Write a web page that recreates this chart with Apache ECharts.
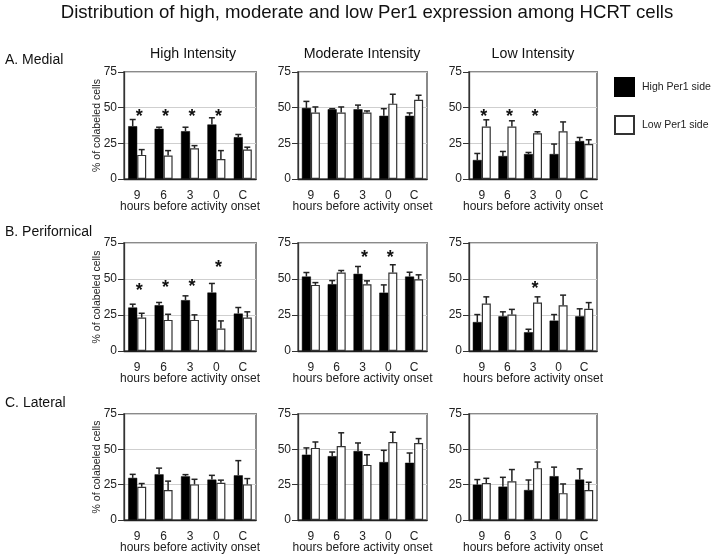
<!DOCTYPE html>
<html>
<head>
<meta charset="utf-8">
<script src="https://cdn.jsdelivr.net/npm/echarts@6/dist/echarts.min.js"></script>
<style>html,body{margin:0;padding:0;background:#fff}#c{width:713px;height:558px}</style>
</head>
<body>
<div id="c"></div>
<script>
const categories = ['9', '6', '3', '0', 'C'];
const yTicks = [0, 25, 50, 75];

// Row A: Medial
const highA1 = [37.0, 35.2, 33.5, 38.2, 29.3];
const highA1Sem = [4.7, 1.1, 2.8, 4.7, 1.9];
const lowA1 = [16.9, 16.4, 21.6, 14.0, 20.6];
const lowA1Sem = [3.7, 3.5, 1.8, 5.9, 1.7];
const starsA1 = [45.7, 45.7, 45.7, 45.7, null];

const highA2 = [49.8, 48.9, 48.9, 44.3, 44.3];
const highA2Sem = [4.6, 0.4, 2.9, 5.0, 2.0];
const lowA2 = [46.6, 46.6, 46.6, 52.8, 55.5];
const lowA2Sem = [3.9, 3.9, 1.1, 6.6, 3.2];
const starsA2 = [null, null, null, null, null];

const highA3 = [13.3, 16.1, 17.5, 17.5, 26.6];
const highA3Sem = [4.6, 3.2, 1.1, 7.0, 2.5];
const lowA3 = [36.8, 36.8, 32.1, 33.5, 24.5];
const lowA3Sem = [4.7, 4.0, 1.0, 6.5, 3.0];
const starsA3 = [45.4, 45.4, 45.4, null, null];

// Row B: Perifornical
const highB1 = [30.2, 31.8, 35.3, 40.6, 26.0];
const highB1Sem = [2.3, 1.9, 3.0, 6.3, 4.2];
const lowB1 = [23.2, 21.6, 21.6, 15.6, 23.2];
const lowB1Sem = [3.0, 3.9, 3.5, 5.3, 4.0];
const starsB1 = [43.6, 46.0, 46.4, 59.9, null];

const highB2 = [51.7, 46.4, 53.6, 40.5, 51.7];
const highB2Sem = [2.8, 2.5, 5.1, 5.4, 3.0];
const lowB2 = [45.9, 54.5, 46.4, 54.5, 49.8];
const lowB2Sem = [1.6, 1.4, 2.3, 5.4, 3.1];
const starsB2 = [null, null, 66.8, 66.8, null];

const highB3 = [20.1, 24.1, 13.0, 21.1, 24.1];
const highB3Sem = [5.2, 3.1, 2.1, 4.2, 5.2];
const lowB3 = [32.9, 25.3, 33.6, 31.7, 29.3];
const lowB3Sem = [4.7, 3.6, 4.0, 7.1, 4.3];
const starsB3 = [null, null, 45.4, null, null];

// Row C: Lateral
const highC1 = [29.8, 32.3, 30.9, 28.6, 31.6];
const highC1Sem = [2.5, 4.4, 1.2, 3.0, 10.4];
const lowC1 = [23.5, 21.2, 25.2, 26.3, 25.2];
const lowC1Sem = [2.3, 6.3, 3.6, 1.9, 4.1];
const starsC1 = [null, null, null, null, null];

const highC2 = [46.2, 45.2, 48.8, 41.0, 40.5];
const highC2Sem = [4.8, 2.9, 5.7, 8.3, 6.9];
const lowC2 = [51.0, 52.4, 39.0, 55.2, 54.5];
const lowC2Sem = [4.2, 9.3, 7.2, 6.9, 3.1];
const starsC2 = [null, null, null, null, null];

const highC3 = [25.0, 23.6, 21.2, 31.0, 28.6];
const highC3Sem = [3.6, 6.6, 7.1, 6.4, 7.6];
const lowC3 = [26.2, 27.4, 36.7, 19.0, 21.2];
const lowC3Sem = [3.3, 8.3, 4.3, 6.5, 5.5];
const starsC3 = [null, null, null, null, null];

const panels = [
  [highA1, highA1Sem, lowA1, lowA1Sem, starsA1],
  [highA2, highA2Sem, lowA2, lowA2Sem, starsA2],
  [highA3, highA3Sem, lowA3, lowA3Sem, starsA3],
  [highB1, highB1Sem, lowB1, lowB1Sem, starsB1],
  [highB2, highB2Sem, lowB2, lowB2Sem, starsB2],
  [highB3, highB3Sem, lowB3, lowB3Sem, starsB3],
  [highC1, highC1Sem, lowC1, lowC1Sem, starsC1],
  [highC2, highC2Sem, lowC2, lowC2Sem, starsC2],
  [highC3, highC3Sem, lowC3, lowC3Sem, starsC3]
];

const FONT = "'Liberation Sans', Arial, sans-serif";
const rowTops = [72, 243, 414];
const rowHeights = [107, 108, 106];
const colLefts = [124, 298, 469];
const colWidths = [132, 129, 128];
const BW = 9;

const grids = [], xAxes = [], yAxes = [], series = [];
panels.forEach((p, i) => {
  const r = Math.floor(i / 3), c = i % 3;
  grids.push({
    left: colLefts[c], top: rowTops[r], width: colWidths[c], height: rowHeights[r],
    show: true, borderColor: '#8a8a8a', borderWidth: 2, backgroundColor: 'transparent'
  });
  xAxes.push({
    type: 'category', gridIndex: i, data: categories,
    axisLine: { lineStyle: { color: '#222', width: 1.3 } },
    axisTick: { show: false },
    axisLabel: { color: '#222', fontSize: 12, fontFamily: FONT, margin: 11 },
    name: 'hours before activity onset', nameLocation: 'middle', nameGap: 22,
    nameMoveOverlap: false,
    nameTextStyle: { color: '#222', fontSize: 12, fontFamily: FONT }
  });
  const ya = {
    type: 'value', gridIndex: i, min: yTicks[0], max: yTicks[yTicks.length - 1], interval: 25,
    axisLine: { show: true, lineStyle: { color: '#333', width: 1.3 } },
    axisTick: { show: true, length: 6, lineStyle: { color: '#333' } },
    axisLabel: { color: '#222', fontSize: 12, fontFamily: FONT, margin: 7 },
    splitLine: { show: true, lineStyle: { color: '#cfcfcf', width: 1 } }
  };
  if (c === 0) {
    ya.name = '% of colabeled cells';
    ya.nameLocation = 'middle';
    ya.nameGap = 21;
    ya.nameMoveOverlap = false;
    ya.nameTextStyle = { color: '#222', fontSize: 10.5, fontFamily: FONT };
  }
  yAxes.push(ya);

  const [hi, hiSem, lo, loSem, stars] = p;
  series.push({
    name: 'High Per1 side', type: 'bar', xAxisIndex: i, yAxisIndex: i,
    data: hi, barWidth: BW, barGap: '0%',
    itemStyle: { color: '#000', borderColor: '#000', borderWidth: 0.5 }, z: 2
  });
  series.push({
    name: 'Low Per1 side', type: 'bar', xAxisIndex: i, yAxisIndex: i,
    data: lo, barWidth: BW, barGap: '0%',
    itemStyle: { color: '#fff', borderColor: '#333', borderWidth: 1.2 }, z: 2
  });
  const errData = [];
  hi.forEach((v, k) => errData.push([k, v, hiSem[k], -1]));
  lo.forEach((v, k) => errData.push([k, v, loSem[k], 1]));
  series.push({
    type: 'custom', xAxisIndex: i, yAxisIndex: i, z: 3, silent: true,
    data: errData,
    renderItem: function (params, api) {
      const k = api.value(0), v = api.value(1), s = api.value(2), side = api.value(3);
      const base = api.coord([k, v]);
      const top = api.coord([k, v + s]);
      const x = base[0] + side * BW / 2;
      const st = { stroke: '#222', lineWidth: 1.5 };
      return {
        type: 'group', children: [
          { type: 'line', shape: { x1: x, y1: base[1], x2: x, y2: top[1] }, style: st },
          { type: 'line', shape: { x1: x - 3, y1: top[1], x2: x + 3, y2: top[1] }, style: st }
        ]
      };
    }
  });
  const starData = [];
  stars.forEach((v, k) => { if (v != null) starData.push([k, v]); });
  series.push({
    type: 'custom', xAxisIndex: i, yAxisIndex: i, z: 4, silent: true,
    data: starData,
    renderItem: function (params, api) {
      const pt = api.coord([api.value(0), api.value(1)]);
      return {
        type: 'text', x: pt[0] + 2, y: pt[1] + 3,
        style: { text: '*', fontSize: 18, fontWeight: 'bold', fontFamily: FONT, fill: '#111', align: 'center', verticalAlign: 'middle' }
      };
    }
  });
});

const txt = (x, y, text, size, align) => ({
  type: 'text', x: x, y: y,
  style: { text: text, fontSize: size, fontFamily: FONT, fill: '#111', align: align || 'center', verticalAlign: 'middle' }
});

const graphics = [
  txt(367, 13, 'Distribution of high, moderate and low Per1 expression among HCRT cells', 18.6),
  txt(193, 54, 'High Intensity', 14.2),
  txt(362, 54, 'Moderate Intensity', 14.2),
  txt(533, 54, 'Low Intensity', 14.2),
  txt(5, 60, 'A. Medial', 14, 'left'),
  txt(5, 232, 'B. Perifornical', 14, 'left'),
  txt(5, 403, 'C. Lateral', 14, 'left')
];

const chart = echarts.init(document.getElementById('c'), null, { renderer: 'canvas' });
chart.setOption({
  animation: false,
  backgroundColor: '#fff',
  textStyle: { fontFamily: FONT },
  grid: grids,
  xAxis: xAxes,
  yAxis: yAxes,
  series: series,
  legend: {
    data: ['High Per1 side', 'Low Per1 side'],
    orient: 'vertical', left: 614, top: 77, padding: 0,
    itemWidth: 19, itemHeight: 18, itemGap: 18, icon: 'rect',
    selectedMode: false,
    textStyle: { color: '#222', fontSize: 10.5, fontFamily: FONT, padding: [0, 0, 0, 3] }
  },
  graphic: graphics
});
</script>
</body>
</html>
